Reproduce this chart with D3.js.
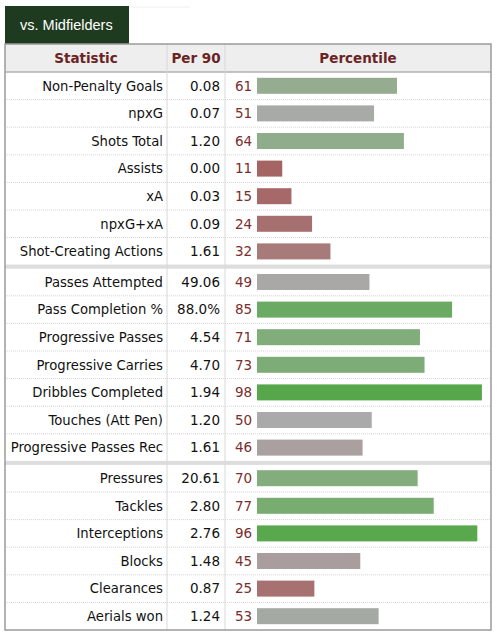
<!DOCTYPE html>
<html>
<head>
<meta charset="utf-8">
<script src="https://cdn.jsdelivr.net/npm/d3@7"></script>
<style>
  body { margin: 0; background: #fff; }
  svg { display: block; font-family: "DejaVu Sans", Verdana, sans-serif; }
</style>
</head>
<body>
<svg id="chart" width="502" height="640"></svg>
<script>
const tabLabel = "vs. Midfielders";
const headers = ["Statistic", "Per 90", "Percentile"];

const stats = [
  "Non-Penalty Goals", "npxG", "Shots Total", "Assists", "xA", "npxG+xA", "Shot-Creating Actions",
  "Passes Attempted", "Pass Completion %", "Progressive Passes", "Progressive Carries",
  "Dribbles Completed", "Touches (Att Pen)", "Progressive Passes Rec",
  "Pressures", "Tackles", "Interceptions", "Blocks", "Clearances", "Aerials won"
];
const per90 = [
  "0.08", "0.07", "1.20", "0.00", "0.03", "0.09", "1.61",
  "49.06", "88.0%", "4.54", "4.70", "1.94", "1.20", "1.61",
  "20.61", "2.80", "2.76", "1.48", "0.87", "1.24"
];
const percentiles = [
  61, 51, 64, 11, 15, 24, 32,
  49, 85, 71, 73, 98, 50, 46,
  70, 77, 96, 45, 25, 53
];
// group of each row (0, 1, 2) - a thick separator sits between groups
const groups = [0,0,0,0,0,0,0, 1,1,1,1,1,1,1, 2,2,2,2,2,2];

const svg = d3.select("#chart");

const left = 5, right = 491;
const colStat = 167, colPer = 225;
const headTop = 44, headBottom = 72;
const sepGap = 3;
const rowH = 27.6;

const y = d3.scaleBand()
  .domain(stats)
  .range([headBottom, headBottom + stats.length * rowH])
  .paddingInner(0);
const rowY = (d, i) => y(d) + groups[i] * sepGap;
const tableBottom = headBottom + stats.length * rowH + 2 * sepGap;

const x = d3.scaleLinear().domain([0, 100]).range([257, 486.5]);

const color = d3.scaleLinear()
  .domain([0, 30, 50, 70, 100])
  .range(["#a45a5a", "#a87676", "#aaaaaa", "#83ad7d", "#53a746"]);

// tab
svg.append("line")
  .attr("x1", 129).attr("x2", 190).attr("y1", 7).attr("y2", 7)
  .attr("stroke", "#eeeeee").attr("stroke-width", 1);
svg.append("rect")
  .attr("x", left).attr("y", 6).attr("width", 124).attr("height", headTop - 6)
  .attr("fill", "#1f3b1f");
svg.append("text")
  .attr("x", 20).attr("y", 30)
  .attr("fill", "#fff").attr("font-size", 14.5)
  .attr("font-family", "'Liberation Sans', Arial, sans-serif")
  .text(tabLabel);

// header
svg.append("rect")
  .attr("x", left).attr("y", headTop).attr("width", right - left).attr("height", headBottom - headTop)
  .attr("fill", "#eeeeee");
const headCenters = [(left + colStat) / 2, (colStat + colPer) / 2, (colPer + right) / 2];
svg.selectAll("text.head")
  .data(headers)
  .enter().append("text")
  .attr("class", "head")
  .attr("x", (d, i) => headCenters[i])
  .attr("y", (headTop + headBottom) / 2)
  .attr("dy", "0.36em")
  .attr("text-anchor", "middle")
  .attr("font-weight", "bold")
  .attr("font-size", 13.5)
  .attr("fill", "#6b2424")
  .text(d => d);
svg.append("line")
  .attr("x1", left).attr("x2", right).attr("y1", headBottom).attr("y2", headBottom)
  .attr("stroke", "#b0b0b0").attr("stroke-width", 1.5);

// row dividers (dotted)
svg.selectAll("line.row")
  .data(stats.slice(0, -1))
  .enter().append("line")
  .attr("class", "row")
  .attr("x1", left).attr("x2", right)
  .attr("y1", (d, i) => rowY(d, i) + rowH)
  .attr("y2", (d, i) => rowY(d, i) + rowH)
  .attr("stroke", "#d4d4d4").attr("stroke-dasharray", "1,1");

// group separators
const sepRows = stats.filter((d, i) => i < stats.length - 1 && groups[i + 1] !== groups[i]);
svg.selectAll("rect.sep")
  .data(sepRows)
  .enter().append("rect")
  .attr("class", "sep")
  .attr("x", left).attr("width", right - left)
  .attr("y", d => rowY(d, stats.indexOf(d)) + rowH - 0.5)
  .attr("height", sepGap + 1)
  .attr("fill", "#dddddd");

// column dividers
svg.selectAll("line.col")
  .data([colStat, colPer])
  .enter().append("line")
  .attr("class", "col")
  .attr("x1", d => d).attr("x2", d => d)
  .attr("y1", headTop).attr("y2", tableBottom)
  .attr("stroke", "#d8d8d8");

// cells
const rows = svg.selectAll("g.r")
  .data(stats)
  .enter().append("g")
  .attr("class", "r")
  .attr("transform", (d, i) => `translate(0,${rowY(d, i) + rowH / 2})`);

rows.append("text")
  .attr("x", colStat - 4).attr("dy", "0.36em")
  .attr("text-anchor", "end").attr("font-size", 13.2).attr("fill", "#111")
  .text(d => d);

rows.append("text")
  .attr("x", colPer - 5).attr("dy", "0.36em")
  .attr("text-anchor", "end").attr("font-size", 13.5).attr("fill", "#111")
  .text((d, i) => per90[i]);

rows.append("text")
  .attr("x", 235).attr("dy", "0.36em")
  .attr("font-size", 13.5).attr("fill", "#7a2e2e")
  .text((d, i) => percentiles[i]);

rows.append("rect")
  .attr("x", x(0)).attr("y", -8).attr("height", 16)
  .attr("width", (d, i) => x(percentiles[i]) - x(0))
  .attr("fill", (d, i) => color(percentiles[i]));

// outer border
svg.append("rect")
  .attr("x", left).attr("y", headTop).attr("width", right - left).attr("height", tableBottom - headTop)
  .attr("fill", "none").attr("stroke", "#9a9a9a").attr("stroke-width", 1.5);
</script>
</body>
</html>
